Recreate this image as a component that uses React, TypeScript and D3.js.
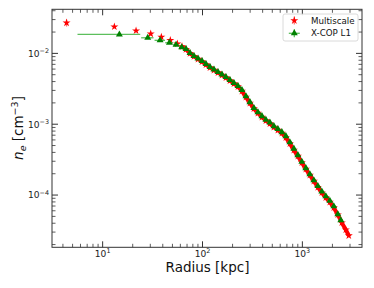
import React from 'react';
import * as d3 from 'd3';

const W = 374;
const H = 288;
const plot = { left: 52, right: 362, top: 9.3, bottom: 247.3 };

// Multiscale: inner sparse points (with y errors)
const msInnerR = [4.35, 13.1, 21.6, 30.3, 38.7, 47.6, 56.0];
const msInnerNe = [0.027, 0.0238, 0.0209, 0.0189, 0.017, 0.0153, 0.0137];
const msInnerErr = [0.0031, 0.0012, 0.0009, 0.0008, 0.0007, 0.0006, 0.0005];

// Multiscale: dense profile
const msR = [62.4, 68.4, 75.0, 82.2, 90.2, 98.9, 108.4, 118.9, 130.3, 142.9, 156.7, 171.8, 188.4, 206.5, 226.5,
  248.3, 272.3, 298.5, 327.3, 358.9, 393.6, 431.5, 473.2, 518.8, 568.9, 623.7, 683.9, 749.9, 822.2, 901.6,
  988.5, 1084, 1189, 1303, 1429, 1567, 1718, 1884, 2065, 2265, 2483, 2723, 2917];
const msNe = [0.01248, 0.01139, 0.01, 0.00907, 0.0083, 0.00766, 0.00695, 0.0063, 0.00581, 0.00536, 0.00494,
  0.00455, 0.00413, 0.00374, 0.0034, 0.00294, 0.00242, 0.00199, 0.00166, 0.001435, 0.001259, 0.001124,
  0.001019, 0.00091, 0.000826, 0.000748, 0.000647, 0.000532, 0.000431, 0.000354, 0.000287, 0.000232,
  0.000191, 0.000157, 0.000129, 0.000108, 9.19e-5, 7.94e-5, 6.64e-5, 5.28e-5, 4.07e-5, 3.24e-5, 2.67e-5];

// X-COP L1: inner wide bins
const xcInnerR = [14.7, 28.3, 37.6, 46.6, 54.3, 61.9];
const xcInnerNe = [0.01853, 0.0166, 0.01528, 0.01413, 0.01322, 0.01216];
const xcInnerXErr = [9.1, 4.0, 4.5, 4.3, 4.0, 3.7];

// X-COP L1: dense profile
const xcR = [68.4, 75.0, 82.2, 90.2, 98.9, 108.4, 118.9, 130.3, 142.9, 156.7, 171.8, 188.4, 206.5, 226.5, 248.3,
  272.3, 298.5, 327.3, 358.9, 393.6, 431.5, 473.2, 518.8, 568.9, 623.7, 683.9, 749.9, 822.2, 901.6, 988.5,
  1084, 1189, 1303, 1429, 1567, 1718, 1884, 2065, 2265, 2427];
const xcNe = [0.0115, 0.01009, 0.00916, 0.00845, 0.00778, 0.00706, 0.00641, 0.00591, 0.00545, 0.00502, 0.00463,
  0.0042, 0.00381, 0.00346, 0.00303, 0.00249, 0.00205, 0.00169, 0.00148, 0.0013, 0.00116, 0.001054, 0.00094,
  0.000853, 0.000773, 0.000679, 0.000558, 0.000452, 0.000366, 0.000296, 0.00024, 0.000197, 0.000162,
  0.000134, 0.000112, 9.64e-5, 8.33e-5, 6.97e-5, 5.37e-5, 4.42e-5];
const xcXErr = [3.4, 3.7, 4.0, 4.4, 4.8, 5.3, 5.8, 6.4, 7.0, 7.6, 8.4, 9.2, 10, 11, 12, 13, 14.5, 16, 17.5, 19,
  21, 23, 25, 28, 30, 33, 37, 40, 44, 48, 53, 58, 63, 70, 76, 84, 92, 100, 110, 118];

const xTickExps = [1, 2, 3];
const yTickExps = [-2, -3, -4];
const legendLabels = ['Multiscale', 'X-COP L1'];

const RED = '#ff0000';
const RED_ERR = '#ff7070';
const GREEN = '#008000';
const GREEN_ERR = '#5cbf5c';
const AXIS = '#333';
const FONT = '"DejaVu Sans", sans-serif';

const x = d3.scaleLog().domain([3.11, 3955]).range([plot.left, plot.right]);
const y = d3.scaleLog().domain([1.83e-5, 0.0419]).range([plot.bottom, plot.top]);

const star = d3.symbol().type(d3.symbolStar).size(20)() as string;
const tri = d3.symbol().type(d3.symbolTriangle).size(21)() as string;

function minorTicks(domain: number[], lo: number, hi: number) {
  const out: number[] = [];
  for (let e = lo; e <= hi; e++) {
    for (let m = 2; m <= 9; m++) {
      const v = m * Math.pow(10, e);
      if (v > domain[0] && v < domain[1]) out.push(v);
    }
  }
  return out;
}

const xMinor = minorTicks(x.domain(), 0, 3);
const yMinor = minorTicks(y.domain(), -5, -2);

const App: React.FC = () => {
  const msLine = d3.line<number>()
    .x((_, i) => x(msR[i]))
    .y((d) => y(d))(msNe) as string;

  const majorLen = 6;
  const minorLen = 3.5;

  return (
    <svg width={W} height={H} style={{ position: 'absolute', left: 0, top: 0 }} fontFamily={FONT}>
      <rect x={0} y={0} width={W} height={H} fill="#fff" />

      {/* Multiscale */}
      <g>
        {msInnerR.map((r, i) => (
          <line key={'me' + i} x1={x(r)} x2={x(r)}
            y1={y(msInnerNe[i] - msInnerErr[i])} y2={y(msInnerNe[i] + msInnerErr[i])}
            stroke={RED_ERR} strokeWidth={1.2} />
        ))}
        <path d={msLine} fill="none" stroke={RED} strokeWidth={4} strokeLinejoin="round" />
        {msInnerR.map((r, i) => (
          <path key={'ms' + i} d={star} transform={`translate(${x(r)},${y(msInnerNe[i])})`} fill={RED} />
        ))}
        {msR.map((r, i) => (
          <path key={'md' + i} d={star} transform={`translate(${x(r)},${y(msNe[i])})`} fill={RED} />
        ))}
      </g>

      {/* X-COP L1 */}
      <g>
        {xcInnerR.map((r, i) => (
          <line key={'xe' + i} x1={x(r - xcInnerXErr[i])} x2={x(r + xcInnerXErr[i])}
            y1={y(xcInnerNe[i])} y2={y(xcInnerNe[i])} stroke={GREEN_ERR} strokeWidth={1.3} />
        ))}
        {xcR.map((r, i) => (
          <line key={'xde' + i} x1={x(r - xcXErr[i])} x2={x(r + xcXErr[i])}
            y1={y(xcNe[i])} y2={y(xcNe[i])} stroke={GREEN_ERR} strokeWidth={1.3} />
        ))}
        {xcInnerR.map((r, i) => (
          <path key={'xs' + i} d={tri} transform={`translate(${x(r)},${y(xcInnerNe[i])})`} fill={GREEN} />
        ))}
        {xcR.map((r, i) => (
          <path key={'xd' + i} d={tri} transform={`translate(${x(r)},${y(xcNe[i])})`} fill={GREEN} />
        ))}
      </g>

      {/* frame */}
      <rect x={plot.left} y={plot.top} width={plot.right - plot.left} height={plot.bottom - plot.top}
        fill="none" stroke={AXIS} strokeWidth={1} />

      {/* x ticks */}
      {xMinor.map((v, i) => (
        <g key={'xm' + i} stroke={AXIS} strokeWidth={0.8}>
          <line x1={x(v)} x2={x(v)} y1={plot.bottom} y2={plot.bottom - minorLen} />
          <line x1={x(v)} x2={x(v)} y1={plot.top} y2={plot.top + minorLen} />
        </g>
      ))}
      {xTickExps.map((e) => {
        const px = x(Math.pow(10, e));
        return (
          <g key={'xM' + e}>
            <line x1={px} x2={px} y1={plot.bottom} y2={plot.bottom - majorLen} stroke={AXIS} strokeWidth={1} />
            <line x1={px} x2={px} y1={plot.top} y2={plot.top + majorLen} stroke={AXIS} strokeWidth={1} />
            <text x={px} y={plot.bottom + 9.5} textAnchor="middle" fontSize={9.1} fill="#222">
              10<tspan dy={-3.8} fontSize={6.4}>{e}</tspan>
            </text>
          </g>
        );
      })}

      {/* y ticks */}
      {yMinor.map((v, i) => (
        <g key={'ym' + i} stroke={AXIS} strokeWidth={0.8}>
          <line x1={plot.left} x2={plot.left + minorLen} y1={y(v)} y2={y(v)} />
          <line x1={plot.right} x2={plot.right - minorLen} y1={y(v)} y2={y(v)} />
        </g>
      ))}
      {yTickExps.map((e) => {
        const py = y(Math.pow(10, e));
        return (
          <g key={'yM' + e}>
            <line x1={plot.left} x2={plot.left + majorLen} y1={py} y2={py} stroke={AXIS} strokeWidth={1} />
            <line x1={plot.right} x2={plot.right - majorLen} y1={py} y2={py} stroke={AXIS} strokeWidth={1} />
            <text x={plot.left - 3} y={py + 3.4} textAnchor="end" fontSize={9.1} fill="#222">
              10<tspan dy={-3.8} fontSize={6.4}>{'\u2212' + Math.abs(e)}</tspan>
            </text>
          </g>
        );
      })}

      {/* axis labels */}
      <text x={(plot.left + plot.right) / 2 + 0.5} y={272} textAnchor="middle" fontSize={13.5} fill="#111">
        Radius [kpc]
      </text>
      <text transform={`translate(23,128) rotate(-90)`} textAnchor="middle" fontSize={13.5} fill="#111">
        <tspan fontStyle="italic">n</tspan>
        <tspan fontStyle="italic" fontSize={9.5} dy={2.5}>e</tspan>
        <tspan dy={-2.5}>{' [cm'}</tspan>
        <tspan fontSize={9.5} dy={-5}>{'\u22123'}</tspan>
        <tspan dy={5}>]</tspan>
      </text>

      {/* legend */}
      <g>
        <rect x={283} y={14} width={75} height={27} rx={2} fill="#fff" fillOpacity={0.85}
          stroke="#d0d0d0" strokeWidth={0.8} />
        <line x1={294.3} x2={294.3} y1={16.5} y2={24.5} stroke={RED_ERR} strokeWidth={1.2} />
        <path d={star} transform="translate(294.3,20.5)" fill={RED} />
        <text x={311} y={23.5} fontSize={8.7} fill="#111">{legendLabels[0]}</text>
        <line x1={288.8} x2={299.8} y1={33.3} y2={33.3} stroke={GREEN_ERR} strokeWidth={1.3} />
        <line x1={294.3} x2={294.3} y1={29.3} y2={37.3} stroke={GREEN_ERR} strokeWidth={1.3} />
        <path d={tri} transform="translate(294.3,33.3)" fill={GREEN} />
        <text x={311} y={36.3} fontSize={8.7} fill="#111">{legendLabels[1]}</text>
      </g>
    </svg>
  );
};

export default App;
